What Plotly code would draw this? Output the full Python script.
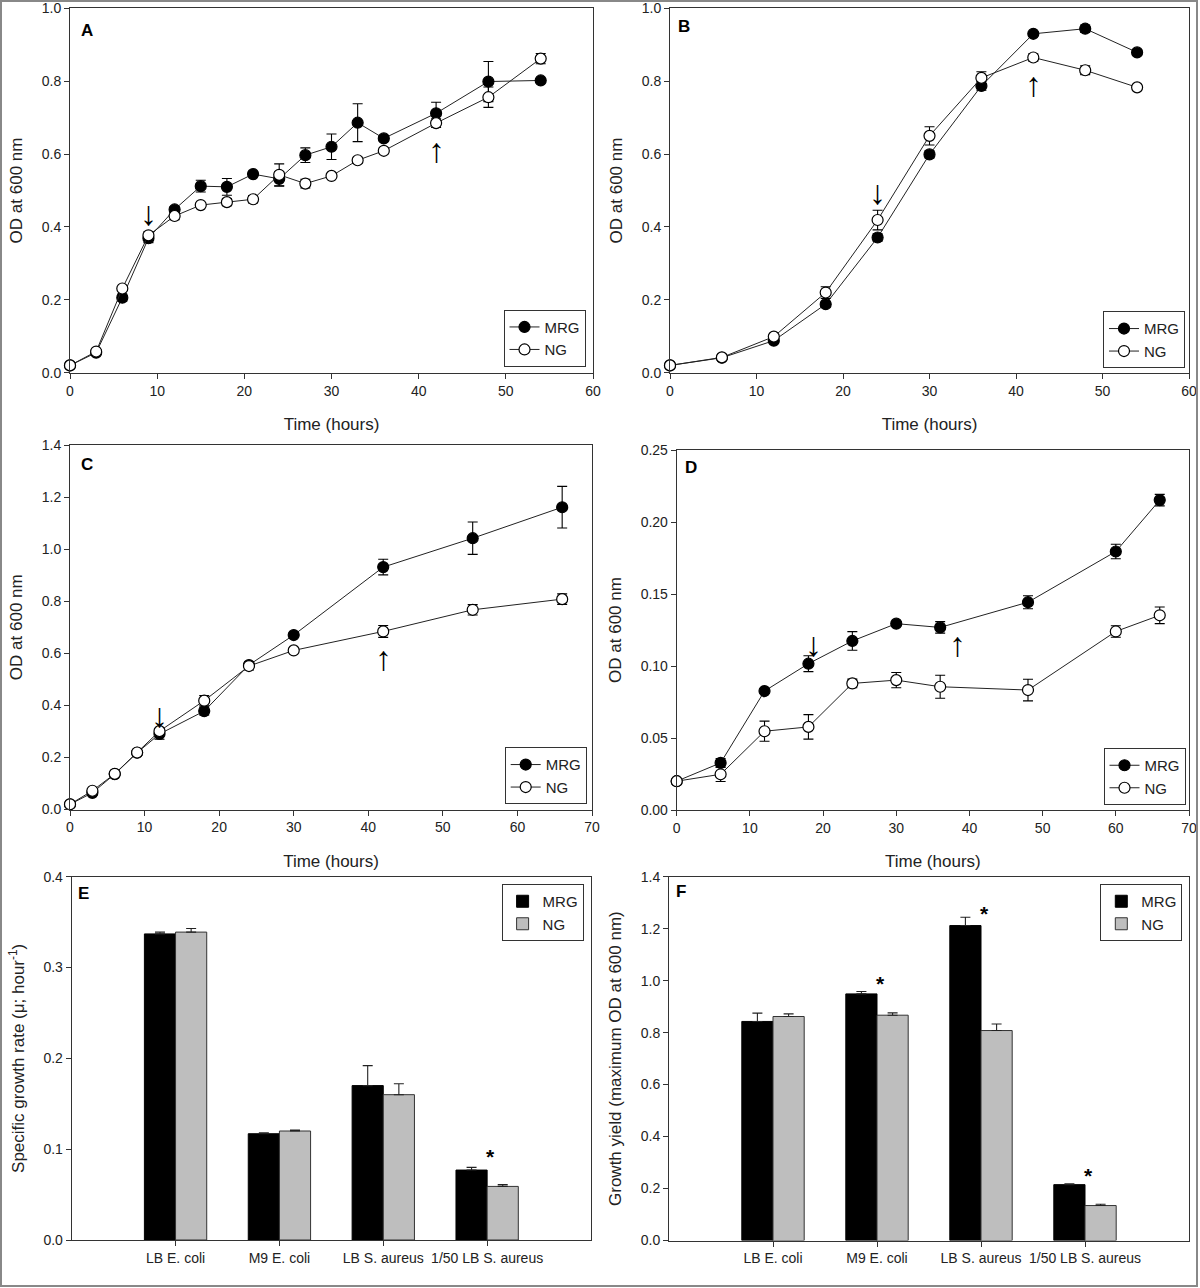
import plotly.graph_objects as go

FONT = "Liberation Sans, Arial, sans-serif"
W, H = 1200, 1288

# ---------------- data ----------------
# Panel A
A_time = [0, 3, 6, 9, 12, 15, 18, 21, 24, 27, 30, 33, 36, 42, 48, 54]
A_mrg = [0.02, 0.055, 0.206, 0.369, 0.448, 0.512, 0.51, 0.545, 0.532, 0.597, 0.62, 0.686, 0.643, 0.712, 0.799, 0.802]
A_mrg_err = [0.004, 0.005, 0.01, 0.012, 0.008, 0.016, 0.023, 0.007, 0.02, 0.02, 0.035, 0.052, 0.007, 0.03, 0.055, 0.005]
A_ng = [0.02, 0.058, 0.231, 0.377, 0.43, 0.46, 0.468, 0.476, 0.543, 0.519, 0.54, 0.583, 0.609, 0.685, 0.756, 0.862]
A_ng_err = [0.004, 0.005, 0.005, 0.01, 0.01, 0.005, 0.01, 0.01, 0.03, 0.012, 0.005, 0.008, 0.008, 0.012, 0.028, 0.014]

# Panel B
B_time = [0, 6, 12, 18, 24, 30, 36, 42, 48, 54]
B_mrg = [0.02, 0.041, 0.088, 0.188, 0.371, 0.599, 0.787, 0.93, 0.944, 0.879]
B_mrg_err = [0.003, 0.004, 0.006, 0.008, 0.01, 0.01, 0.012, 0.005, 0.01, 0.008]
B_ng = [0.02, 0.042, 0.099, 0.22, 0.419, 0.65, 0.809, 0.865, 0.83, 0.783]
B_ng_err = [0.003, 0.004, 0.005, 0.016, 0.027, 0.025, 0.017, 0.01, 0.012, 0.006]

# Panel C
C_time = [0, 3, 6, 9, 12, 18, 24, 30, 42, 54, 66]
C_mrg = [0.02, 0.064, 0.136, 0.218, 0.29, 0.378, 0.555, 0.67, 0.931, 1.042, 1.161]
C_mrg_err = [0.005, 0.01, 0.008, 0.01, 0.02, 0.015, 0.01, 0.008, 0.03, 0.062, 0.08]
C_ng = [0.02, 0.072, 0.137, 0.219, 0.301, 0.418, 0.551, 0.611, 0.684, 0.767, 0.808]
C_ng_err = [0.005, 0.008, 0.008, 0.01, 0.01, 0.02, 0.015, 0.008, 0.023, 0.02, 0.02]

# Panel D
D_time = [0, 6, 12, 18, 24, 30, 36, 48, 60, 66]
D_mrg = [0.02, 0.0327, 0.0826, 0.1016, 0.1174, 0.1294, 0.1268, 0.1443, 0.1795, 0.2152]
D_mrg_err = [0.001, 0.003, 0.0015, 0.0055, 0.0065, 0.0015, 0.004, 0.0045, 0.005, 0.004]
D_ng = [0.02, 0.0248, 0.0547, 0.0577, 0.0879, 0.0902, 0.0856, 0.0833, 0.124, 0.1352]
D_ng_err = [0.001, 0.005, 0.007, 0.0085, 0.003, 0.0053, 0.008, 0.0075, 0.004, 0.0058]

# Panels E and F (bar charts)
categories = ["LB E. coli", "M9 E. coli", "LB S. aureus", "1/50 LB S. aureus"]
E_mrg = [0.337, 0.117, 0.17, 0.077]
E_mrg_err = [0.002, 0.001, 0.022, 0.003]
E_ng = [0.339, 0.12, 0.16, 0.059]
E_ng_err = [0.004, 0.001, 0.012, 0.002]
F_mrg = [0.843, 0.949, 1.212, 0.215]
F_mrg_err = [0.032, 0.009, 0.032, 0.003]
F_ng = [0.862, 0.867, 0.808, 0.1345]
F_ng_err = [0.01, 0.009, 0.025, 0.005]

# significance stars (category index, y)
E_stars = [(3, 0.096)]
F_stars = [(1, 1.003), (2, 1.272), (3, 0.266)]

# arrows (time, y centre) for each panel
A_arrows = [("down", 9, 0.437), ("up", 42, 0.61)]
B_arrows = [("down", 24, 0.497), ("up", 42, 0.792)]
C_arrows = [("down", 12, 0.363), ("up", 42, 0.583)]
D_arrows = [("down", 18.7, 0.1155), ("up", 38.3, 0.115)]

# ---------------- layout geometry (pixels) ----------------
def xd(l, r):
    return [l / W, r / W]

def yd(t, b):
    return [1 - b / H, 1 - t / H]

panels = {
    1: dict(x=xd(70, 593), y=yd(8.3, 372.7)),
    2: dict(x=xd(670, 1189), y=yd(8.3, 372.7)),
    3: dict(x=xd(70, 592), y=yd(445, 809.5)),
    4: dict(x=xd(676.7, 1189), y=yd(450, 810)),
    5: dict(x=xd(71.7, 591), y=yd(876.7, 1240)),
    6: dict(x=xd(669, 1189), y=yd(876.7, 1240.5)),
}

fig = go.Figure()

LINE_C = "#222222"


def add_lines(idx, t, mrg, mrg_err, ng, ng_err):
    xa = "x" if idx == 1 else f"x{idx}"
    ya = "y" if idx == 1 else f"y{idx}"
    lg = "legend" if idx == 1 else f"legend{idx}"
    for name, vals, errs, fill in [("MRG", mrg, mrg_err, "black"), ("NG", ng, ng_err, "white")]:
        fig.add_trace(go.Scatter(
            x=t, y=vals, name=name, mode="lines+markers",
            xaxis=xa, yaxis=ya, legend=lg, cliponaxis=False,
            line=dict(color=LINE_C, width=1),
            marker=dict(symbol="circle", size=11, color=fill, line=dict(color="black", width=1.2)),
            error_y=dict(type="data", array=errs, visible=True, color="black", thickness=1.1, width=5),
        ))


def add_bars(idx, mrg, mrg_err, ng, ng_err):
    xa = f"x{idx}"
    ya = f"y{idx}"
    lg = f"legend{idx}"
    xs = list(range(len(categories)))
    fig.add_trace(go.Bar(
        x=xs, y=mrg, name="MRG", xaxis=xa, yaxis=ya, legend=lg,
        width=0.3, offset=-0.3,
        marker=dict(color="black", line=dict(color="black", width=1)),
        error_y=dict(type="data", symmetric=False, array=mrg_err, arrayminus=[0] * len(mrg),
                     color="#222", thickness=1.1, width=5),
    ))
    fig.add_trace(go.Bar(
        x=xs, y=ng, name="NG", xaxis=xa, yaxis=ya, legend=lg,
        width=0.3, offset=0.0,
        marker=dict(color="#bebebe", line=dict(color="#333", width=1)),
        error_y=dict(type="data", symmetric=False, array=ng_err, arrayminus=[0] * len(ng),
                     color="#222", thickness=1.1, width=5),
    ))


add_lines(1, A_time, A_mrg, A_mrg_err, A_ng, A_ng_err)
add_lines(2, B_time, B_mrg, B_mrg_err, B_ng, B_ng_err)
add_lines(3, C_time, C_mrg, C_mrg_err, C_ng, C_ng_err)
add_lines(4, D_time, D_mrg, D_mrg_err, D_ng, D_ng_err)
add_bars(5, E_mrg, E_mrg_err, E_ng, E_ng_err)
add_bars(6, F_mrg, F_mrg_err, F_ng, F_ng_err)

axis_common = dict(
    showline=True, linecolor="#333", linewidth=1, mirror=True,
    ticks="outside", ticklen=5, tickcolor="#333", tickwidth=1,
    showgrid=False, zeroline=False, automargin=False,
    tickfont=dict(family=FONT, size=14, color="#222"),
)
TITLE_FONT = dict(family=FONT, size=17, color="#222")

yinfo = {
    1: dict(range=[0, 1.0], dtick=0.2, tickformat=".1f", title="OD at 600 nm"),
    2: dict(range=[0, 1.0], dtick=0.2, tickformat=".1f", title="OD at 600 nm"),
    3: dict(range=[0, 1.4], dtick=0.2, tickformat=".1f", title="OD at 600 nm"),
    4: dict(range=[0, 0.25], dtick=0.05, tickformat=".2f", title="OD at 600 nm"),
    5: dict(range=[0, 0.4], dtick=0.1, tickformat=".1f",
            title="Specific growth rate (\u03bc; hour<sup>-1</sup>)"),
    6: dict(range=[0, 1.4], dtick=0.2, tickformat=".1f",
            title="Growth yield (maximum OD at 600 nm)"),
}
xinfo = {
    1: dict(range=[0, 60], dtick=10, title="Time (hours)"),
    2: dict(range=[0, 60], dtick=10, title="Time (hours)"),
    3: dict(range=[0, 70], dtick=10, title="Time (hours)"),
    4: dict(range=[0, 70], dtick=10, title="Time (hours)"),
    5: dict(range=[-1, 4], tickmode="array", tickvals=list(range(4)), ticktext=categories, title=None),
    6: dict(range=[-1, 4], tickmode="array", tickvals=list(range(4)), ticktext=categories, title=None),
}

layout_axes = {}
for i in range(1, 7):
    xk = "xaxis" if i == 1 else f"xaxis{i}"
    yk = "yaxis" if i == 1 else f"yaxis{i}"
    xa_anchor = "y" if i == 1 else f"y{i}"
    ya_anchor = "x" if i == 1 else f"x{i}"
    xi = dict(xinfo[i])
    xt = xi.pop("title")
    yi = dict(yinfo[i])
    yt = yi.pop("title")
    xax = dict(axis_common, domain=panels[i]["x"], anchor=xa_anchor, **xi)
    if xt:
        xax["title"] = dict(text=xt, standoff=20, font=TITLE_FONT)
    layout_axes[xk] = xax
    layout_axes[yk] = dict(axis_common, domain=panels[i]["y"], anchor=ya_anchor,
                           title=dict(text=yt, standoff=14, font=TITLE_FONT), **yi)

legend_common = dict(
    bgcolor="white", bordercolor="#333", borderwidth=1,
    font=dict(family=FONT, size=15, color="#222"),
    itemwidth=30, tracegroupgap=0,
)
legends = {
    "legend": dict(legend_common, x=585.5 / W, y=1 - 366.7 / H, xanchor="right", yanchor="bottom"),
    "legend2": dict(legend_common, x=1185 / W, y=1 - 368.3 / H, xanchor="right", yanchor="bottom"),
    "legend3": dict(legend_common, x=586.7 / W, y=1 - 804.3 / H, xanchor="right", yanchor="bottom"),
    "legend4": dict(legend_common, x=1185.5 / W, y=1 - 805 / H, xanchor="right", yanchor="bottom"),
    "legend5": dict(legend_common, x=583.6 / W, y=1 - 884 / H, xanchor="right", yanchor="top"),
    "legend6": dict(legend_common, x=1182.3 / W, y=1 - 884 / H, xanchor="right", yanchor="top"),
}

annotations = []
# panel letters
letters = [("A", 1, 0.033, 0.94), ("B", 2, 0.027, 0.95), ("C", 3, 0.033, 0.947),
           ("D", 4, 0.028, 0.951), ("E", 5, 0.0225, 0.954), ("F", 6, 0.024, 0.959)]
for txt, i, lx, ly in letters:
    sfx = "" if i == 1 else str(i)
    annotations.append(dict(text=f"<b>{txt}</b>", xref=f"x{sfx} domain", yref=f"y{sfx} domain",
                            x=lx, y=ly, xanchor="center", yanchor="middle", showarrow=False,
                            font=dict(family=FONT, size=17, color="black")))

# arrows
for i, arrows in [(1, A_arrows), (2, B_arrows), (3, C_arrows), (4, D_arrows)]:
    sfx = "" if i == 1 else str(i)
    for kind, xv, yv in arrows:
        annotations.append(dict(text="\u2193" if kind == "down" else "\u2191",
                                xref=f"x{sfx}", yref=f"y{sfx}", x=xv, y=yv,
                                xanchor="center", yanchor="middle", showarrow=False,
                                font=dict(family=FONT, size=34, color="black")))

# significance stars
for i, stars in [(5, E_stars), (6, F_stars)]:
    for cx, yv in stars:
        annotations.append(dict(text="<b>*</b>", xref=f"x{i}", yref=f"y{i}", x=cx + 0.03, y=yv,
                                xanchor="center", yanchor="middle", showarrow=False, yshift=-4,
                                font=dict(family=FONT, size=21, color="black")))

fig.update_layout(
    width=W, height=H,
    margin=dict(l=0, r=0, t=0, b=0),
    paper_bgcolor="white", plot_bgcolor="white",
    font=dict(family=FONT, size=14, color="#222"),
    barmode="overlay",
    showlegend=True,
    annotations=annotations,
    shapes=[dict(type="rect", xref="paper", yref="paper", x0=1 / W, x1=1197 / W,
                 y0=1 - 1286 / H, y1=1 - 1 / H, line=dict(color="#888", width=2))],
    **layout_axes,
    **legends,
)

fig.write_html("out.html", config={"displayModeBar": False},
               post_script="document.body.style.margin='0px';")
